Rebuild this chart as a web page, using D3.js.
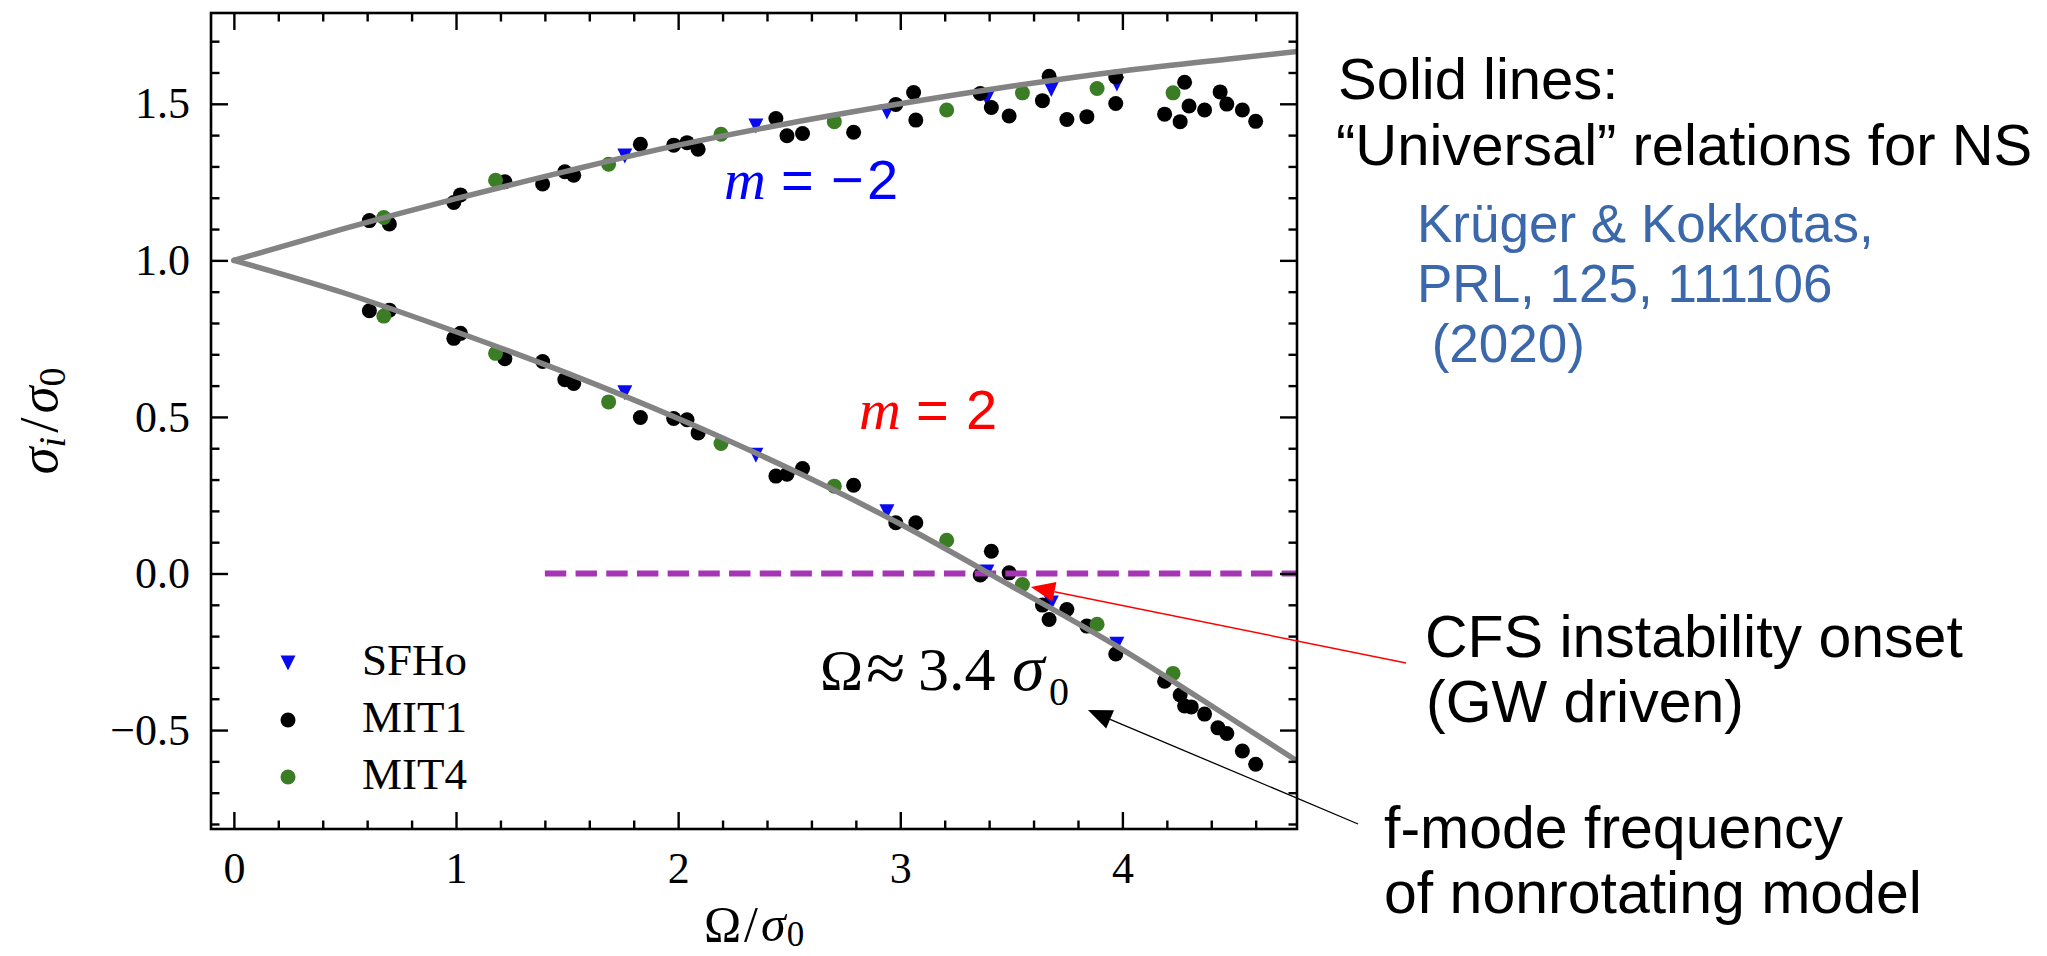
<!DOCTYPE html>
<html>
<head>
<meta charset="utf-8">
<script src="https://cdn.jsdelivr.net/npm/d3@7"></script>
<style>
  body { margin: 0; background: #fff; }
  svg { display: block; }
</style>
</head>
<body>
<svg id="chart" width="2047" height="956"></svg>
<script>
// ---- axis ticks ----
const xMajorTicks = [0, 1, 2, 3, 4];
const xTickLabels = ["0", "1", "2", "3", "4"];
const xMinorTicks = [0.2, 0.4, 0.6, 0.8, 1.2, 1.4, 1.6, 1.8, 2.2, 2.4, 2.6, 2.8, 3.2, 3.4, 3.6, 3.8, 4.2, 4.4, 4.6];
const yMajorTicks = [-0.5, 0.0, 0.5, 1.0, 1.5];
const yTickLabels = ["\u22120.5", "0.0", "0.5", "1.0", "1.5"];
const yMinorTicks = [-0.8, -0.7, -0.6, -0.4, -0.3, -0.2, -0.1, 0.1, 0.2, 0.3, 0.4, 0.6, 0.7, 0.8, 0.9, 1.1, 1.2, 1.3, 1.4, 1.6, 1.7];

// ---- SFHo (one Omega per model, both branches) ----
const sfhoOmega = [1.76, 2.35, 2.94, 3.39, 3.68, 3.975];
const sfhoUpper = [1.333, 1.429, 1.474, 1.517, 1.546, 1.563];
const sfhoLower = [0.577, 0.378, 0.197, 0.005, -0.094, -0.226];

// ---- MIT4 ----
const mit4Omega = [0.675, 1.178, 1.687, 2.193, 2.703, 3.209, 3.55, 3.886, 4.228];
const mit4Upper = [1.137, 1.256, 1.307, 1.403, 1.443, 1.480, 1.535, 1.549, 1.535];
const mit4Lower = [0.822, 0.703, 0.548, 0.415, 0.279, 0.106, -0.035, -0.162, -0.319];

// ---- MIT1 ----
const mit1UpperOmega = [0.61, 0.70, 0.99, 1.02, 1.22, 1.39, 1.49, 1.53, 1.83, 1.98, 2.04, 2.09, 2.44, 2.49, 2.56, 2.79, 2.98, 3.06, 3.07, 3.36, 3.41, 3.49, 3.64, 3.67, 3.75, 3.84, 3.97, 3.97, 4.19, 4.26, 4.28, 4.30, 4.37, 4.44, 4.47, 4.54, 4.60];
const mit1Upper = [1.127, 1.116, 1.185, 1.209, 1.251, 1.244, 1.283, 1.272, 1.371, 1.368, 1.376, 1.355, 1.453, 1.398, 1.405, 1.409, 1.498, 1.536, 1.448, 1.533, 1.488, 1.461, 1.510, 1.588, 1.450, 1.459, 1.586, 1.501, 1.467, 1.443, 1.569, 1.493, 1.480, 1.538, 1.499, 1.480, 1.444];
const mit1LowerOmega = [0.61, 0.70, 0.99, 1.02, 1.22, 1.39, 1.49, 1.53, 1.83, 1.98, 2.04, 2.09, 2.44, 2.49, 2.56, 2.79, 2.98, 3.07, 3.36, 3.41, 3.49, 3.64, 3.67, 3.75, 3.84, 3.97, 4.19, 4.26, 4.28, 4.31, 4.37, 4.43, 4.47, 4.54, 4.60];
const mit1Lower = [0.839, 0.841, 0.751, 0.767, 0.686, 0.677, 0.619, 0.607, 0.498, 0.495, 0.491, 0.449, 0.311, 0.317, 0.335, 0.282, 0.162, 0.162, -0.005, 0.071, 0.002, -0.101, -0.147, -0.115, -0.168, -0.257, -0.344, -0.388, -0.423, -0.426, -0.449, -0.493, -0.511, -0.567, -0.609];

// ---- universal relations (m = -2 upper, m = 2 lower) ----
const fitOmega = [0, 0.5, 1, 1.5, 2, 2.5, 3, 3.5, 4, 4.5, 4.8];
const fitUpper = [1.0, 1.102, 1.197, 1.285, 1.368, 1.438, 1.500, 1.556, 1.605, 1.645, 1.668];
const fitLower = [1.0, 0.895, 0.772, 0.640, 0.495, 0.335, 0.158, -0.040, -0.243, -0.468, -0.605];

// ---- zero-frequency line ----
const onsetStart = 1.4;
const onsetLevel = 0.0;

// ---- annotation arrows [tail, head] in data units ----
const cfsArrow = [[5.277, -0.286], [3.588, -0.043]];
const fmodeArrow = [[5.061, -0.800], [3.845, -0.436]];

// ---- layout ----
const plot = { left: 211, right: 1297, top: 13, bottom: 829 };
const serif = "'Liberation Serif', 'Times New Roman', serif";
const sans = "'Liberation Sans', Arial, sans-serif";

const svg = d3.select("#chart");
svg.append("rect").attr("width", 2047).attr("height", 956).attr("fill", "#fff");

const x = d3.scaleLinear().domain([-0.103, 4.786]).range([plot.left, plot.right]);
const y = d3.scaleLinear().domain([-0.816, 1.790]).range([plot.bottom, plot.top]);

svg.append("defs").append("clipPath").attr("id", "plot-clip")
  .append("rect")
  .attr("x", plot.left).attr("y", plot.top)
  .attr("width", plot.right - plot.left).attr("height", plot.bottom - plot.top);

const inner = svg.append("g").attr("clip-path", "url(#plot-clip)");

// ---- markers ----
const zip = (xs, ys) => xs.map((v, i) => [v, ys[i]]);
const dotR = 7.5;
const tri = 7.5;
const triPath = (cx, cy) => `M${cx - tri},${cy - tri}L${cx + tri},${cy - tri}L${cx},${cy + tri}Z`;

const sfhoPts = zip(sfhoOmega, sfhoUpper).concat(zip(sfhoOmega, sfhoLower));
inner.append("g").selectAll("path").data(sfhoPts).join("path")
  .attr("d", d => triPath(x(d[0]), y(d[1])))
  .attr("fill", "#0a0af0");

const mit1Pts = zip(mit1UpperOmega, mit1Upper).concat(zip(mit1LowerOmega, mit1Lower));
inner.append("g").selectAll("circle").data(mit1Pts).join("circle")
  .attr("cx", d => x(d[0])).attr("cy", d => y(d[1])).attr("r", dotR)
  .attr("fill", "#000");

const mit4Pts = zip(mit4Omega, mit4Upper).concat(zip(mit4Omega, mit4Lower));
inner.append("g").selectAll("circle").data(mit4Pts).join("circle")
  .attr("cx", d => x(d[0])).attr("cy", d => y(d[1])).attr("r", dotR)
  .attr("fill", "#3a7d24");

// ---- zero line ----
inner.append("line")
  .attr("x1", x(onsetStart)).attr("x2", x(x.domain()[1]) + 5)
  .attr("y1", y(onsetLevel)).attr("y2", y(onsetLevel))
  .attr("stroke", "#a535b5").attr("stroke-width", 5.8)
  .attr("stroke-dasharray", "21.4 9.3");

// ---- universal relation curves ----
const line = d3.line().x(d => x(d[0])).y(d => y(d[1])).curve(d3.curveMonotoneX);
[fitUpper, fitLower].forEach(vals => {
  inner.append("path")
    .attr("d", line(zip(fitOmega, vals)))
    .attr("fill", "none").attr("stroke", "#838383").attr("stroke-width", 5.5)
    .attr("stroke-linecap", "round");
});

// ---- axes (inward ticks on all four sides) ----
function styleAxis(g) {
  g.select(".domain").remove();
  g.selectAll(".tick line").attr("stroke", "#000").attr("stroke-width", 2.4);
  g.selectAll(".tick text").attr("fill", "#000").attr("font-family", serif).attr("font-size", 44);
}
const majorLen = 17, minorLen = 8.5;

svg.append("g").attr("transform", `translate(0,${plot.bottom})`)
  .call(d3.axisBottom(x).tickValues(xMajorTicks).tickFormat((d, i) => xTickLabels[i])
    .tickSizeInner(-majorLen).tickSizeOuter(0).tickPadding(23))
  .call(styleAxis);
svg.append("g").attr("transform", `translate(0,${plot.bottom})`)
  .call(d3.axisBottom(x).tickValues(xMinorTicks).tickFormat("").tickSizeInner(-minorLen).tickSizeOuter(0))
  .call(styleAxis);
svg.append("g").attr("transform", `translate(0,${plot.top})`)
  .call(d3.axisTop(x).tickValues(xMajorTicks).tickFormat("").tickSizeInner(-majorLen).tickSizeOuter(0))
  .call(styleAxis);
svg.append("g").attr("transform", `translate(0,${plot.top})`)
  .call(d3.axisTop(x).tickValues(xMinorTicks).tickFormat("").tickSizeInner(-minorLen).tickSizeOuter(0))
  .call(styleAxis);

svg.append("g").attr("transform", `translate(${plot.left},0)`)
  .call(d3.axisLeft(y).tickValues(yMajorTicks).tickFormat((d, i) => yTickLabels[i])
    .tickSizeInner(-majorLen).tickSizeOuter(0).tickPadding(21))
  .call(styleAxis);
svg.append("g").attr("transform", `translate(${plot.left},0)`)
  .call(d3.axisLeft(y).tickValues(yMinorTicks).tickFormat("").tickSizeInner(-minorLen).tickSizeOuter(0))
  .call(styleAxis);
svg.append("g").attr("transform", `translate(${plot.right},0)`)
  .call(d3.axisRight(y).tickValues(yMajorTicks).tickFormat("").tickSizeInner(-majorLen).tickSizeOuter(0))
  .call(styleAxis);
svg.append("g").attr("transform", `translate(${plot.right},0)`)
  .call(d3.axisRight(y).tickValues(yMinorTicks).tickFormat("").tickSizeInner(-minorLen).tickSizeOuter(0))
  .call(styleAxis);

svg.append("rect")
  .attr("x", plot.left).attr("y", plot.top)
  .attr("width", plot.right - plot.left).attr("height", plot.bottom - plot.top)
  .attr("fill", "none").attr("stroke", "#000").attr("stroke-width", 2.6);

// ---- axis titles ----
const xt = svg.append("text").attr("x", (plot.left + plot.right) / 2).attr("y", 941)
  .attr("text-anchor", "middle").attr("font-family", serif).attr("font-size", 50).attr("fill", "#000");
xt.append("tspan").text("\u03A9");
xt.append("tspan").attr("dx", 3).text("/");
xt.append("tspan").attr("dx", 3).attr("font-style", "italic").text("\u03C3");
xt.append("tspan").attr("dx", 1).attr("font-size", 35).attr("dy", 5).text("0");

const yt = svg.append("text")
  .attr("transform", `translate(57,${(plot.top + plot.bottom) / 2}) rotate(-90)`)
  .attr("text-anchor", "middle").attr("font-family", serif).attr("font-size", 55).attr("fill", "#000");
yt.append("tspan").attr("font-style", "italic").text("\u03C3");
yt.append("tspan").attr("font-style", "italic").attr("font-size", 38).attr("dy", 8).text("i");
yt.append("tspan").attr("dx", 4).attr("dy", -8).text("/");
yt.append("tspan").attr("dx", 4).attr("font-style", "italic").text("\u03C3");
yt.append("tspan").attr("font-size", 38).attr("dy", 8).text("0");

// ---- legend ----
const legend = [
  { name: "SFHo", shape: "tri", color: "#0a0af0", cy: 663 },
  { name: "MIT1", shape: "circle", color: "#000", cy: 720 },
  { name: "MIT4", shape: "circle", color: "#3a7d24", cy: 777 }
];
const lg = svg.append("g");
legend.forEach(item => {
  if (item.shape === "tri") {
    lg.append("path").attr("d", triPath(288, item.cy)).attr("fill", item.color);
  } else {
    lg.append("circle").attr("cx", 288).attr("cy", item.cy).attr("r", dotR).attr("fill", item.color);
  }
  lg.append("text").attr("x", 362).attr("y", item.cy + 12)
    .attr("font-family", serif).attr("font-size", 45).attr("fill", "#000").text(item.name);
});

// ---- branch labels ----
function branchLabel(parts, baseline, color) {
  const t = svg.append("text").attr("y", baseline).attr("fill", color);
  parts.forEach(p => {
    t.append("tspan").attr("x", p.x)
      .attr("font-family", p.italic ? serif : sans)
      .attr("font-style", p.italic ? "italic" : "normal")
      .attr("font-size", p.italic ? 58 : 56)
      .text(p.s);
  });
}
branchLabel([{ s: "m", x: 724, italic: true }, { s: "=", x: 781 }, { s: "\u2212", x: 831 }, { s: "2", x: 867 }], 199, "#0000ff");
branchLabel([{ s: "m", x: 859, italic: true }, { s: "=", x: 916 }, { s: "2", x: 966 }], 429, "#ff0000");

// ---- Omega approx label ----
const om = svg.append("text").attr("y", 690).attr("font-family", serif).attr("font-size", 58).attr("fill", "#000");
om.append("tspan").attr("x", 820).text("\u03A9");
om.append("tspan").attr("x", 866).attr("font-size", 72).attr("dy", 2).text("\u2248");
om.append("tspan").attr("x", 918).attr("dy", -2).attr("font-size", 62).text("3.4");
om.append("tspan").attr("x", 1012).attr("font-style", "italic").attr("font-size", 66).text("\u03C3");
om.append("tspan").attr("x", 1049).attr("dy", 15).attr("font-size", 40).text("0");

// ---- arrows ----
function arrow(pair, color, width) {
  const [x0, y0] = [x(pair[0][0]), y(pair[0][1])];
  const [x1, y1] = [x(pair[1][0]), y(pair[1][1])];
  const len = Math.hypot(x1 - x0, y1 - y0);
  const ux = (x1 - x0) / len, uy = (y1 - y0) / len;
  const L = 24, W = 10;
  const bx = x1 - ux * L, by = y1 - uy * L;
  svg.append("line").attr("x1", x0).attr("y1", y0).attr("x2", bx).attr("y2", by)
    .attr("stroke", color).attr("stroke-width", width);
  svg.append("path")
    .attr("d", `M${x1},${y1}L${bx - uy * W},${by + ux * W}L${bx + uy * W},${by - ux * W}Z`)
    .attr("fill", color);
}
arrow(cfsArrow, "#ff0000", 1.5);
arrow(fmodeArrow, "#000", 1.3);

// ---- side notes ----
const notes = [
  { s: "Solid lines:", x: 1338, y: 99, size: 58, color: "#000" },
  { s: "\u201CUniversal\u201D relations for NS", x: 1336, y: 165, size: 58, color: "#000" },
  { s: "Kr\u00FCger & Kokkotas,", x: 1417, y: 242, size: 53, color: "#3a68aa" },
  { s: "PRL, 125, 111106", x: 1417, y: 302, size: 53, color: "#3a68aa" },
  { s: "\u00A0(2020)", x: 1417, y: 362, size: 53, color: "#3a68aa" },
  { s: "CFS instability onset", x: 1425, y: 657, size: 59, color: "#000" },
  { s: "(GW driven)", x: 1426, y: 722, size: 59, color: "#000" },
  { s: "f-mode frequency", x: 1384, y: 848, size: 59, color: "#000" },
  { s: "of nonrotating model", x: 1384, y: 913, size: 59, color: "#000" }
];
svg.append("g").selectAll("text").data(notes).join("text")
  .attr("x", d => d.x).attr("y", d => d.y)
  .attr("font-family", sans).attr("font-size", d => d.size)
  .attr("fill", d => d.color)
  .text(d => d.s);
</script>
</body>
</html>
